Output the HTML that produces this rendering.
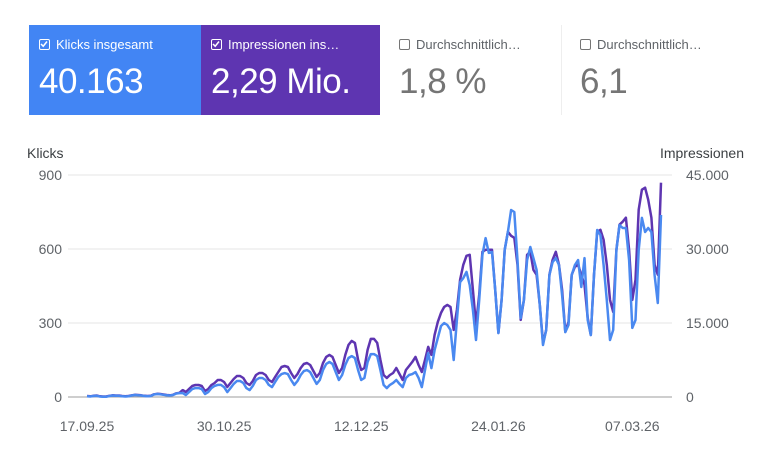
<!DOCTYPE html>
<html><head><meta charset="utf-8"><style>
body{margin:0;width:768px;height:474px;background:#fff;font-family:"Liberation Sans",sans-serif;overflow:hidden;position:relative}
.card{position:absolute;top:25px;height:90px;box-sizing:border-box;padding:12px 0 0 10px}
.lbl{font-size:13px;display:flex;align-items:center;gap:6px;white-space:nowrap}
.cb{width:11px;height:11px;border:1.5px solid currentColor;border-radius:2px;position:relative;box-sizing:border-box}
.val{font-size:35px;margin-top:10px;letter-spacing:-0.5px}
svg text{font-family:"Liberation Sans",sans-serif}
</style></head><body>
<div class="card" style="left:29px;width:172px;background:#4285f4;color:#fff">
 <div class="lbl"><span class="cb"><svg width="8" height="8" style="position:absolute;left:0;top:0"><path d="M1 4 L3.2 6.2 L7 1.5" stroke="#fff" stroke-width="1.5" fill="none"/></svg></span><span>Klicks insgesamt</span></div>
 <div class="val">40.163</div>
</div>
<div class="card" style="left:201px;width:179px;background:#5e35b1;color:#fff">
 <div class="lbl"><span class="cb"><svg width="8" height="8" style="position:absolute;left:0;top:0"><path d="M1 4 L3.2 6.2 L7 1.5" stroke="#fff" stroke-width="1.5" fill="none"/></svg></span><span>Impressionen ins…</span></div>
 <div class="val">2,29 Mio.</div>
</div>
<div class="card" style="left:389px;width:170px;color:#5f6368">
 <div class="lbl"><span class="cb" style="color:#757575"></span><span>Durchschnittlich…</span></div>
 <div class="val" style="color:#757575">1,8 %</div>
</div>
<div style="position:absolute;left:561px;top:25px;width:1px;height:90px;background:#eee"></div>
<div class="card" style="left:570px;width:170px;color:#5f6368">
 <div class="lbl"><span class="cb" style="color:#757575"></span><span>Durchschnittlich…</span></div>
 <div class="val" style="color:#757575">6,1</div>
</div>
<svg id="chart" width="768" height="474" style="position:absolute;left:0;top:0"></svg>
<script>
const clicks=[3,2,4,5,2,1,1,4,6,5,5,3,2,3,6,8,7,6,4,3,4,10,12,11,9,7,6,8,14,16,
16,8,20,32,36,36,32,12,20,36,45,49,49,40,20,36,53,65,65,57,36,28,45,69,77,77,69,49,40,61,81,93,97,93,69,49,65,89,105,109,101,77,53,69,109,134,142,134,101,69,89,130,158,166,158,109,69,77,142,174,174,166,109,49,36,49,57,69,53,
40,77,89,93,101,77,40,109,178,117,190,239,288,300,292,272,150,312,466,482,507,454,353,231,393,576,644,584,588,434,259,393,596,669,758,750,555,320,393,555,608,563,515,373,211,272,494,547,563,535,413,263,292,494,535,555,446,563,312,251,494,677,657,535,393,231,272,596,697,685,685,555,280,312,596,726,669,685,669,494,381,738];
const impressions=[200,150,250,300,150,100,100,250,350,300,300,200,150,200,350,450,400,350,250,200,250,550,650,600,500,400,350,450,750,850,
1400,1015,1624,2233,2436,2436,2233,1218,1624,2436,2842,3451,3451,3045,2030,2842,3654,4263,4263,3857,2842,2436,3248,4466,4872,4872,4466,3451,3045,4060,5075,6090,6293,6090,4872,3857,4669,5887,6699,6902,6496,5278,4060,4872,6902,8120,8526,8120,6496,4872,5887,8526,10556,11368,10962,7511,5481,5887,9541,11774,11774,10962,7511,4466,3857,4466,4872,5887,4669,
3451,5481,6293,7105,8120,6496,5075,7511,10150,8526,12586,15225,17052,18270,18676,18270,13601,17661,23751,26796,28623,28826,21721,14616,20706,29435,29841,29841,29841,21721,12992,19691,29841,33495,32683,32277,26796,15631,19691,28826,29435,25781,24766,18676,10962,13601,24766,27811,29435,26796,21721,13195,15225,24766,26390,26796,24766,22736,16037,12586,24766,33495,33901,31871,26796,19691,17255,29841,34916,35525,36337,29841,19691,23751,37961,42021,42427,39991,36337,26796,24766,43442];
const leftTicks=[0,300,600,900];
const rightTickLabels=["0","15.000","30.000","45.000"];
const rightTicks=[0,15000,30000,45000];
const xTickLabels=["17.09.25","30.10.25","12.12.25","24.01.26","07.03.26"];
const xTickDays=[0,43,86,129,171];
const NS="http://www.w3.org/2000/svg",svg=document.getElementById('chart');
const X0=87,X1=661,Y0=397,Y1=175;
const n=clicks.length;
const xs=d=>X0+(X1-X0)*d/(n-1);
const yL=v=>Y0-(Y0-Y1)*v/900;
const yR=v=>Y0-(Y0-Y1)*v/45000;
function mk(t,a,txt){const e=document.createElementNS(NS,t);for(const k in a)e.setAttribute(k,a[k]);if(txt!==undefined)e.textContent=txt;svg.appendChild(e);return e;}
leftTicks.forEach((v,i)=>{
 const g=mk('line',{x1:68,x2:672,y1:yL(v),y2:yL(v),stroke:v===0?'#9e9e9e':'#e6e6e6','stroke-width':1});
 
 
 const t=mk('text',{x:62,y:yL(v)+5,'text-anchor':'end','font-size':14,fill:'#5f6368'},String(v));
 
 
});
rightTicks.forEach((v,i)=>{
 const t=mk('text',{x:686,y:yR(v)+5,'font-size':14,fill:'#5f6368'},rightTickLabels[i]);
 
 
});
xTickDays.forEach((d,i)=>{
 const t=mk('text',{x:xs(d),y:431,'text-anchor':'middle','font-size':14,fill:'#5f6368'},xTickLabels[i]);
 
 
});
const lt=mk('text',{x:27,y:158,'font-size':14,fill:'#3c4043'},'Klicks');


const rt=mk('text',{x:744,y:158,'text-anchor':'end','font-size':14,fill:'#3c4043'},'Impressionen');


const pI=mk('path',{d:impressions.map((v,i)=>(i?'L':'M')+xs(i).toFixed(1)+' '+yR(v).toFixed(1)).join(''),fill:'none',stroke:'#5e35b1','stroke-width':2.5,'stroke-linejoin':'round'});


const pC=mk('path',{d:clicks.map((v,i)=>(i?'L':'M')+xs(i).toFixed(1)+' '+yL(v).toFixed(1)).join(''),fill:'none',stroke:'#4a89f0','stroke-width':2.5,'stroke-linejoin':'round'});


</script>
</body></html>
